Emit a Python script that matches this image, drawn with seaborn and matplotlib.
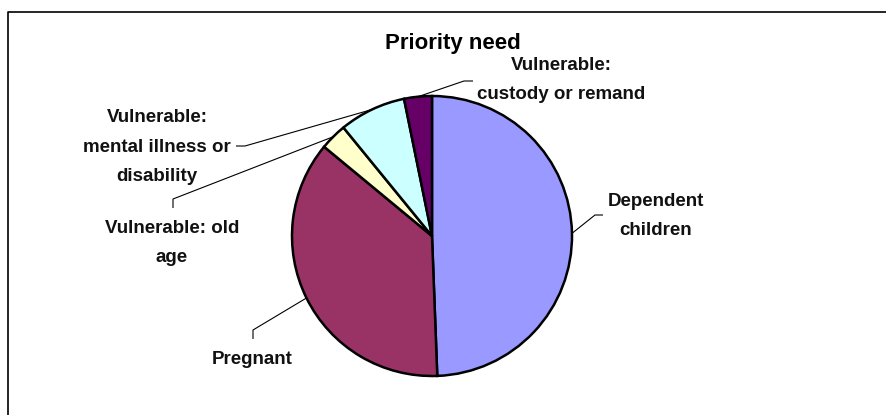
import numpy as np
import matplotlib
matplotlib.use("Agg")
import matplotlib.pyplot as plt
import seaborn as sns

# ---- data ----
categories = ["Dependent children", "Pregnant", "Vulnerable: old age",
              "Vulnerable: mental illness or disability",
              "Vulnerable: custody or remand"]
values = [49.4, 36.6, 3.1, 7.7, 3.2]
label_texts = ["Dependent\nchildren", "Pregnant", "Vulnerable: old\nage",
               "Vulnerable:\nmental illness or\ndisability",
               "Vulnerable:\ncustody or remand"]
colors = ["#9999FF", "#993366", "#FFFFCC", "#CCFFFF", "#660066"]
title = "Priority need"

sns.set_theme(style="white")
plt.rcParams['font.family'] = ['Liberation Sans', 'DejaVu Sans']

W, H = 886, 415
fig = plt.figure(figsize=(W / 100, H / 100), dpi=100)
ax = fig.add_axes([0, 0, 1, 1])

def py(y):
    return H - y

cx, cy, r = 432, py(236), 140
wedges, _ = ax.pie(values, colors=colors, startangle=90, counterclock=False,
                   center=(cx, cy), radius=r, frame=True,
                   wedgeprops=dict(edgecolor="black", linewidth=1.8))
ax.set_xlim(0, W)
ax.set_ylim(0, H)
ax.set_aspect("equal")
ax.axis("off")

# label positions (pixel coords of text centre) and leader elbows
label_pos = [(656, 216), (252, 359), (172, 243), (157, 147), (561, 80)]
elbows = [
    [(595, 215), (603, 215)],
    [(253, 330), (253, 339)],
    [(173, 199), (173, 208)],
    [(245, 146), (236, 146)],
    [(464, 81), (473, 81)],
]

for w, txt, pos, elb in zip(wedges, label_texts, label_pos, elbows):
    mid = np.deg2rad((w.theta1 + w.theta2) / 2)
    ax0 = cx + r * np.cos(mid)
    ay0 = cy + r * np.sin(mid)
    xs = [ax0] + [e[0] for e in elb]
    ys = [ay0] + [py(e[1]) for e in elb]
    ax.plot(xs, ys, color="black", lw=0.8, solid_capstyle="butt")
    ax.text(pos[0], py(pos[1]), txt, ha="center", va="center",
            fontsize=13.5, fontweight="bold", linespacing=1.95, color="#111111")

ax.text(453, py(43), title, ha="center", va="center",
        fontsize=16, fontweight="bold", color="black")

# chart frame (open at right and bottom as in the reference)
ax.plot([8.5, 8.5, W + 5], [-5, py(12), py(12)], color="black", lw=1.2,
        clip_on=False)

fig.savefig("out.png", dpi=100)
